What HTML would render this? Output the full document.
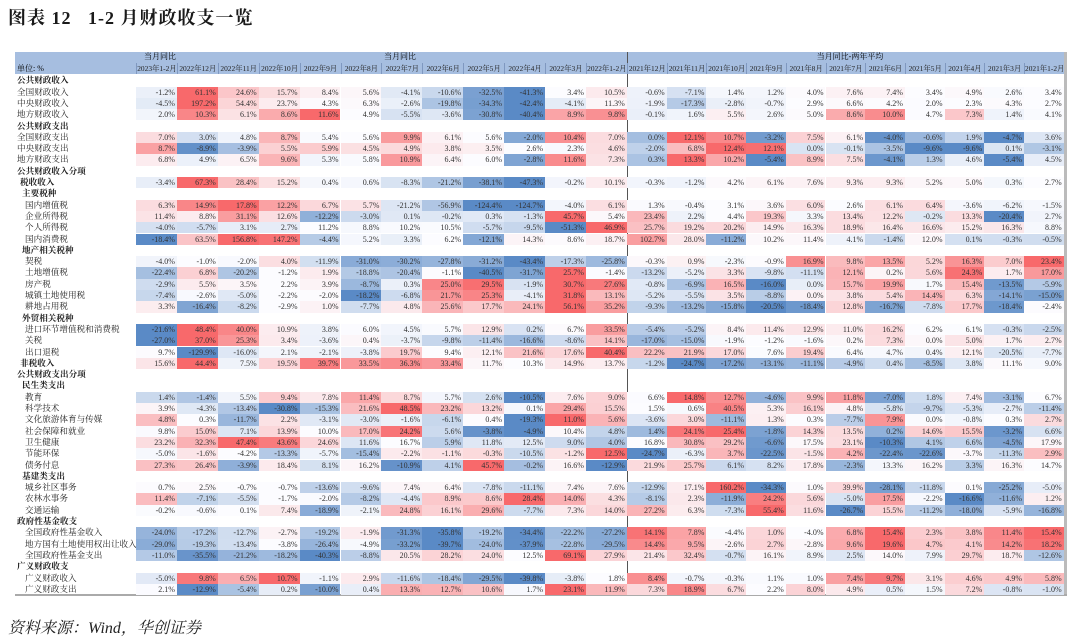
<!DOCTYPE html>
<html><head><meta charset="utf-8">
<style>
body{margin:0;background:#fff;}
#root{position:relative;width:1080px;height:639px;overflow:hidden;background:#fff;font-family:"Liberation Serif","Noto Serif CJK SC",serif;}
.c{position:absolute;box-sizing:border-box;}
.num{font-size:8px;color:#333;text-align:right;padding-right:2px;line-height:11.3px;height:11.3px;white-space:nowrap;}
.lab{font-size:8.6px;color:#222;line-height:11.3px;height:11.3px;white-space:nowrap;}
.hd{font-size:7.4px;color:#222;text-align:center;white-space:nowrap;overflow:hidden;}
</style></head><body>
<div id="root">
<div class="c" style="left:8px;top:4px;font-size:18px;font-weight:bold;color:#1a1a1a;letter-spacing:1px;">图表 12&nbsp;&nbsp;&nbsp;1-2 月财政收支一览</div>
<div class="c" style="left:15px;top:52px;width:1049px;height:22px;background:#A6BEE0;"></div>
<div class="c" style="left:140px;top:52px;width:40px;font-size:8px;line-height:10px;text-align:center;">当月同比</div>
<div class="c" style="left:380px;top:52px;width:40px;font-size:8px;line-height:10px;text-align:center;">当月同比</div>
<div class="c" style="left:800px;top:52px;width:100px;font-size:8px;line-height:10px;text-align:center;">当月同比-两年平均</div>
<div class="c" style="left:17px;top:63px;font-size:8px;line-height:11px;">单位: %</div>
<div class="c" style="left:627px;top:52px;width:1px;height:544px;background:#555;"></div>
<div class="c" style="left:1064px;top:52px;width:3px;height:544px;background:#bbb;"></div>
<div class="c" style="left:15px;top:594px;width:1052px;height:2px;background:#aaa;"></div>
<div class="c" style="left:8px;top:615px;font-size:16px;font-style:italic;color:#222;">资料来源：Wind，华创证券</div>
</div>
<script>
const columns=["2023年1-2月","2022年12月","2022年11月","2022年10月","2022年9月","2022年8月","2022年7月","2022年6月","2022年5月","2022年4月","2022年3月","2022年1-2月","2021年12月","2021年11月","2021年10月","2021年9月","2021年8月","2021年7月","2021年6月","2021年5月","2021年4月","2021年3月","2021年1-2月"];
const rowLabels=["公共财政收入","全国财政收入","中央财政收入","地方财政收入","公共财政支出","全国财政支出","中央财政支出","地方财政支出","公共财政收入分项","税收收入","主要税种","国内增值税","企业所得税","个人所得税","国内消费税","地产相关税种","契税","土地增值税","房产税","城镇土地使用税","耕地占用税","外贸相关税种","进口环节增值税和消费税","关税","出口退税","非税收入","公共财政支出分项","民生类支出","教育","科学技术","文化旅游体育与传媒","社会保障和就业","卫生健康","节能环保","债务付息","基建类支出","城乡社区事务","农林水事务","交通运输","政府性基金收支","全国政府性基金收入","地方国有土地使用权出让收入","全国政府性基金支出","广义财政收支","广义财政收入","广义财政支出"];
const rowTypes=["sec","item","item","item","sec","item","item","item","sec","bold","grp","sub","sub","sub","sub","grp","sub","sub","sub","sub","sub","grp","sub","sub","sub","bold","sec","grp","sub","sub","sub","sub","sub","sub","sub","grp","sub","sub","sub","sec","sub","sub","sub","sec","sub","sub"];
const values={
"全国财政收入":[-1.2,61.1,24.6,15.7,8.4,5.6,-4.1,-10.6,-32.5,-41.3,3.4,10.5,-0.6,-7.1,1.4,1.2,4.0,7.6,7.4,3.4,4.9,2.6,3.4],
"中央财政收入":[-4.5,197.2,54.4,23.7,4.3,6.3,-2.6,-19.8,-34.3,-42.4,-4.1,11.3,-1.9,-17.3,-2.8,-0.7,2.9,6.6,4.2,2.0,2.3,4.3,2.7],
"地方财政收入":[2.0,10.3,6.1,8.6,11.6,4.9,-5.5,-3.6,-30.8,-40.4,8.9,9.8,-0.1,1.6,5.5,2.6,5.0,8.6,10.0,4.7,7.3,1.4,4.1],
"全国财政支出":[7.0,3.0,4.8,8.7,5.4,5.6,9.9,6.1,5.6,-2.0,10.4,7.0,0.0,12.1,10.7,-3.2,7.5,6.1,-4.0,-0.6,1.9,-4.7,3.6],
"中央财政支出":[8.7,-8.9,-3.9,5.5,5.9,4.5,4.9,3.8,3.5,2.6,2.3,4.6,-2.0,6.8,12.4,12.1,0.0,-0.1,-3.5,-9.6,-9.6,0.1,-3.1],
"地方财政支出":[6.8,4.9,6.5,9.6,5.3,5.8,10.9,6.4,6.0,-2.8,11.6,7.3,0.3,13.3,10.2,-5.4,8.9,7.5,-4.1,1.3,4.6,-5.4,4.5],
"税收收入":[-3.4,67.3,28.4,15.2,0.4,0.6,-8.3,-21.2,-38.1,-47.3,-0.2,10.1,-0.3,-1.2,4.2,6.1,7.6,9.3,9.3,5.2,5.0,0.3,2.7],
"国内增值税":[6.3,14.9,17.8,12.2,6.7,5.7,-21.2,-56.9,-124.4,-124.7,-4.0,6.1,1.3,-0.4,3.1,3.6,6.0,2.6,6.1,6.4,-3.6,-6.2,-1.5],
"企业所得税":[11.4,8.8,31.1,12.6,-12.2,-3.0,0.1,-0.2,0.3,-1.3,45.7,5.4,23.4,2.2,4.4,19.3,3.3,13.4,12.2,-0.2,13.3,-20.4,2.7],
"个人所得税":[-4.0,-5.7,3.1,2.7,11.2,8.8,10.2,10.5,-5.7,-9.5,-51.3,46.9,25.7,19.2,20.2,14.9,16.3,18.9,16.4,16.6,15.2,16.3,8.8],
"国内消费税":[-18.4,63.5,156.8,147.2,-4.4,5.2,3.3,6.2,-12.1,14.3,8.6,18.7,102.7,28.0,-11.2,10.2,11.4,4.1,-1.4,12.0,0.1,-0.3,-0.5],
"契税":[-4.0,-1.0,-2.0,4.0,-11.9,-31.0,-30.2,-27.8,-31.2,-43.4,-17.3,-25.8,-0.3,0.9,-2.3,-0.9,16.9,9.8,13.5,5.2,16.3,7.0,23.4],
"土地增值税":[-22.4,6.8,-20.2,-1.2,1.9,-18.8,-20.4,-1.1,-40.5,-31.7,25.7,-1.4,-13.2,-5.2,3.3,-9.8,-11.1,12.1,0.2,5.6,24.3,1.7,17.0],
"房产税":[-2.9,5.5,3.5,2.2,3.9,-8.7,0.3,25.0,29.5,-1.9,30.7,27.6,-0.8,-6.9,16.5,-16.0,0.0,15.7,19.9,1.7,15.4,-13.5,-5.9],
"城镇土地使用税":[-7.4,-2.6,-5.0,-2.2,-2.0,-18.2,-6.8,21.7,25.3,-4.1,31.8,13.1,-5.2,-5.5,3.5,-8.8,0.0,3.8,5.4,14.4,6.3,-14.1,-15.0],
"耕地占用税":[3.3,-16.4,-8.2,-2.9,1.0,-7.7,4.8,25.6,17.7,24.1,56.1,35.2,-9.3,-13.2,-15.8,-20.5,-18.4,12.8,-16.7,-7.8,17.7,-18.4,-2.4],
"进口环节增值税和消费税":[-21.6,48.4,40.0,10.9,3.8,6.0,4.5,5.7,12.9,0.2,6.7,33.5,-5.4,-5.2,8.4,11.4,12.9,11.0,16.2,6.2,6.1,-0.3,-2.5],
"关税":[-27.0,37.0,25.3,3.4,-3.6,0.4,-3.7,-9.8,-11.4,-16.6,-8.6,14.1,-17.0,-15.0,-1.9,-1.2,-1.6,0.2,7.3,0.0,5.0,1.7,2.7],
"出口退税":[9.7,-129.9,-16.0,2.1,-2.1,-3.8,19.7,9.4,12.1,21.6,17.6,40.4,22.2,21.9,17.0,7.6,19.4,6.4,4.7,0.4,12.1,-20.5,-7.7],
"非税收入":[15.6,44.4,7.5,19.5,39.7,33.5,36.3,33.4,11.7,10.3,14.9,13.7,-1.2,-24.7,-17.2,-13.1,-11.1,-4.9,0.4,-8.5,3.8,11.1,9.0],
"教育":[1.4,-1.4,5.5,9.4,7.8,11.4,8.7,5.7,2.6,-10.5,7.6,9.0,6.6,14.8,12.7,-4.6,9.9,11.8,-7.0,1.8,7.4,-3.1,6.7],
"科学技术":[3.9,-4.3,-13.4,-30.8,-15.3,21.6,48.5,23.2,13.2,0.1,29.4,15.5,1.5,0.6,40.5,5.3,16.1,4.8,-5.8,-9.7,-5.3,-2.7,-11.4],
"文化旅游体育与传媒":[4.8,0.3,-11.7,2.2,-3.1,-3.0,-1.6,-6.1,0.4,-19.3,11.0,5.6,-3.6,3.0,-11.1,1.3,0.3,-7.7,7.9,0.0,-0.8,0.3,2.7],
"社会保障和就业":[9.8,15.0,7.1,13.9,10.0,17.0,24.2,5.6,-3.8,-4.9,10.4,4.8,1.4,24.1,25.4,-1.8,14.3,13.5,0.2,14.6,15.5,-3.2,6.6],
"卫生健康":[23.2,32.3,47.4,43.6,24.6,11.6,16.7,5.9,11.8,12.5,9.0,4.0,16.8,30.8,29.2,-6.6,17.5,23.1,-10.3,4.1,6.6,-4.5,17.9],
"节能环保":[-5.0,-1.6,-4.2,-13.3,-5.7,-15.4,-2.2,-1.1,-0.3,-10.5,-1.2,12.5,-24.7,-6.3,3.7,-22.5,-1.5,4.2,-22.4,-22.6,-3.7,-11.3,2.9],
"债务付息":[27.3,26.4,-3.9,18.4,8.1,16.2,-10.9,4.1,45.7,-0.2,16.6,-12.9,21.9,25.7,6.1,8.2,17.8,-2.3,13.3,16.2,3.3,16.3,14.7],
"城乡社区事务":[0.7,2.5,-0.7,-0.7,-13.6,-9.6,7.4,6.4,-7.8,-11.1,7.4,7.6,-12.9,17.1,160.2,-34.3,1.0,39.9,-28.1,-11.8,0.1,-25.2,-5.0],
"农林水事务":[11.4,-7.1,-5.5,-1.7,-2.0,-8.2,-4.4,8.9,8.6,28.4,14.0,4.3,-8.1,2.3,-11.9,24.2,5.6,-5.0,17.5,-2.2,-16.6,-11.6,1.2],
"交通运输":[-0.2,-0.6,0.1,7.4,-18.9,-2.1,24.8,16.1,29.6,-7.7,7.3,14.0,27.2,6.3,-7.3,55.4,11.6,-26.7,15.5,-11.2,-18.0,-5.9,-16.8],
"全国政府性基金收入":[-24.0,-17.2,-12.7,-2.7,-19.2,-1.9,-31.3,-35.8,-19.2,-34.4,-22.2,-27.2,14.1,7.8,-4.4,1.0,-4.0,6.8,15.4,2.3,3.8,11.4,15.4],
"地方国有土地使用权出让收入":[-29.0,-19.3,-13.4,-3.8,-26.4,-4.9,-33.2,-39.7,-24.0,-37.9,-22.8,-29.5,14.4,9.5,-2.6,2.7,-2.8,9.6,19.6,4.7,4.1,14.2,18.2],
"全国政府性基金支出":[-11.0,-35.5,-21.2,-18.2,-40.3,-8.8,20.5,28.2,24.0,12.5,69.1,27.9,21.4,32.4,-0.7,16.1,8.9,2.5,14.0,7.9,29.7,18.7,-12.6],
"广义财政收入":[-5.0,9.8,6.5,10.7,-1.1,2.9,-11.6,-18.4,-29.5,-39.8,-3.8,1.8,8.4,-0.7,-0.3,1.1,1.0,7.4,9.7,3.1,4.6,4.9,5.8],
"广义财政支出":[2.1,-12.9,-5.4,0.2,-10.0,0.4,13.3,12.7,10.6,1.7,23.1,11.9,7.3,18.9,6.7,2.2,8.0,4.9,0.5,1.5,7.2,-0.8,-1.0]
};
const root=document.getElementById('root');
const ROW0=75.3, RH=11.3;
function colX(i){return i<12?136+i*40.9:627+(i-12)*39.7;}
function colW(i){return i<12?40.9:39.7;}
function median(a){const s=a.slice().sort((x,y)=>x-y);const n=s.length;return n%2?s[(n-1)/2]:(s[n/2-1]+s[n/2])/2;}
function mix(c1,c2,t){t=Math.max(0,Math.min(1,t));return 'rgb('+c1.map((v,k)=>Math.round(v+(c2[k]-v)*t)).join(',')+')';}
const WHITE=[252,252,255],RED=[248,105,107],BLUE=[90,138,198];
function colorFor(v,arr){const mn=Math.min(...arr),mx=Math.max(...arr),md=median(arr);
  if(v>=md){return mx===md?mix(WHITE,RED,0):mix(WHITE,RED,(v-md)/(mx-md));}
  return mix(WHITE,BLUE,(md-v)/(md-mn));}
columns.forEach((c,i)=>{
  const d=document.createElement('div');
  d.className='c hd';
  
  
  d.style.left=colX(i)+'px';d.style.top='63px';d.style.width=colW(i)+'px';d.style.lineHeight='11px';
  d.style.borderLeft='1px solid #7f98c0';
  d.textContent=c;root.appendChild(d);
});
const indents={sec:17,item:17,bold:20,grp:22,sub:25};
rowLabels.forEach((lab,r)=>{
  const t=rowTypes[r];
  const y=ROW0+r*RH;
  const l=document.createElement('div');
  l.className='c lab';
  
  
  l.style.left=indents[t]+'px';l.style.top=y+'px';
  if(t==='sec'||t==='bold'||t==='grp')l.style.fontWeight='bold';
  l.textContent=lab;root.appendChild(l);
  const vals=values[lab];
  if(!vals)return;
  vals.forEach((v,i)=>{
    const cell=document.createElement('div');
    cell.className='c num';
    
    
    cell.style.left=colX(i)+'px';cell.style.top=y+'px';cell.style.width=colW(i)+'px';
    cell.style.background=colorFor(v,vals);
    cell.textContent=v.toFixed(1)+'%';
    root.appendChild(cell);
  });
});
</script>
</body></html>
